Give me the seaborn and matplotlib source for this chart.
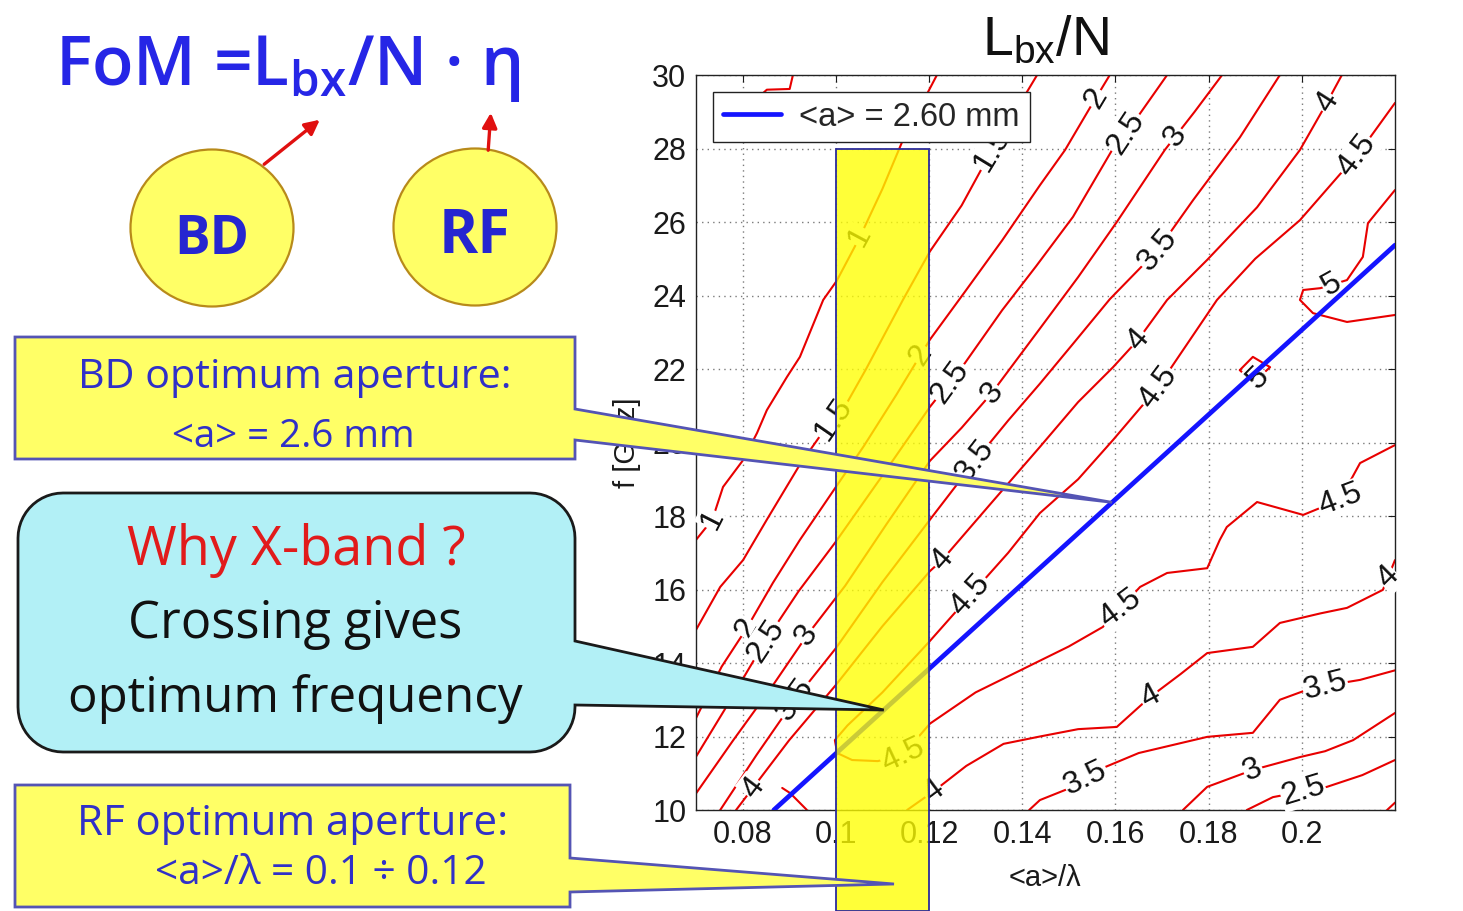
import numpy as np
import pandas as pd
import matplotlib
matplotlib.use("Agg")
import matplotlib.pyplot as plt
from matplotlib.lines import Line2D
from matplotlib.patches import Rectangle, Ellipse, Polygon, FancyArrowPatch
import seaborn as sns

# ---------------------------------------------------------------- data
X_TICKS = [0.08, 0.10, 0.12, 0.14, 0.16, 0.18, 0.20]
F_TICKS = [10, 12, 14, 16, 18, 20, 22, 24, 26, 28, 30]

# iso-lines of L_bx/N in the (<a>/lambda, f [GHz]) plane
c05_x = [0.0800, 0.0852, 0.0901, 0.0908]
c05_f = [29.00, 29.60, 29.62, 30.00]

c1_x = [0.0700, 0.0735, 0.0758, 0.0801, 0.0831, 0.0852, 0.0895, 0.0923, 0.0973, 0.1002, 0.1052, 0.1100, 0.1144, 0.1217]
c1_f = [17.35, 17.90, 18.79, 19.52, 20.26, 20.88, 21.78, 22.33, 23.88, 24.40, 25.60, 26.90, 28.23, 30.00]

c15_x = [0.0700, 0.0752, 0.0801, 0.0852, 0.0923, 0.0973, 0.1016, 0.1065, 0.1144, 0.1202, 0.1270, 0.1335, 0.1380, 0.1432]
c15_f = [14.90, 16.07, 16.80, 17.90, 19.40, 20.30, 20.90, 22.00, 23.88, 25.20, 26.45, 27.96, 28.90, 30.00]

c2_x = [0.0700, 0.0755, 0.0809, 0.0865, 0.0923, 0.0990, 0.1060, 0.1130, 0.1202, 0.1277, 0.1357, 0.1438, 0.1492, 0.1545, 0.1588]
c2_f = [12.50, 13.90, 14.95, 16.18, 17.35, 18.60, 19.90, 21.30, 22.80, 24.10, 25.50, 27.00, 27.96, 29.10, 30.00]

c25_x = [0.0700, 0.0760, 0.0844, 0.0920, 0.1000, 0.1100, 0.1202, 0.1277, 0.1357, 0.1430, 0.1509, 0.1593, 0.1650, 0.1711]
c25_f = [11.45, 12.70, 14.50, 15.95, 17.30, 19.10, 20.97, 22.16, 23.60, 24.80, 26.14, 27.96, 28.90, 30.00]

c3_x = [0.0700, 0.0780, 0.0860, 0.0938, 0.1020, 0.1110, 0.1202, 0.1270, 0.1335, 0.1438, 0.1520, 0.1603, 0.1706, 0.1770, 0.1829]
c3_f = [10.45, 11.90, 13.30, 14.75, 16.10, 17.80, 19.50, 20.40, 21.35, 23.10, 24.50, 26.00, 27.96, 29.00, 30.00]

c35_x = [0.0752, 0.0830, 0.0912, 0.1000, 0.1100, 0.1202, 0.1299, 0.1370, 0.1438, 0.1510, 0.1588, 0.1691, 0.1767, 0.1867, 0.1953]
c35_f = [10.00, 11.50, 13.00, 14.40, 16.20, 17.90, 19.50, 20.60, 21.60, 22.70, 23.90, 25.24, 26.60, 28.30, 30.00]

c4_x = [0.0786, 0.0822, 0.0900, 0.1000, 0.1100, 0.1202, 0.1228, 0.1330, 0.1438, 0.1520, 0.1595, 0.1649, 0.1711, 0.1797, 0.1904, 0.1996, 0.2054, 0.2086]
c4_f = [10.00, 10.60, 11.90, 13.40, 15.00, 16.50, 16.80, 18.30, 19.88, 21.10, 22.05, 22.80, 23.88, 24.97, 26.40, 27.96, 29.25, 30.00]

c45_x = [0.2200, 0.2118, 0.2082, 0.1996, 0.1900, 0.1818, 0.1739, 0.1691, 0.1595, 0.1520, 0.1438, 0.1370, 0.1299,
         0.1202, 0.1100, 0.1025, 0.0998, 0.1003, 0.1035, 0.1090, 0.1144, 0.1202, 0.1300, 0.1420, 0.1500, 0.1573,
         0.1653, 0.1711, 0.1797, 0.1824, 0.1839, 0.1904, 0.2003, 0.2082, 0.2125, 0.2200]
c45_f = [29.24, 27.80, 27.30, 26.05, 25.00, 23.88, 22.40, 21.50, 20.07, 19.00, 18.08, 17.00, 15.99,
         14.60, 13.20, 12.30, 11.90, 11.55, 11.36, 11.33, 11.50, 12.35, 13.20, 13.95, 14.45, 14.98,
         16.07, 16.45, 16.58, 17.35, 17.70, 18.38, 18.03, 18.44, 19.44, 19.93]

c45b_x = [0.0885, 0.0902, 0.0938]
c45b_f = [10.60, 10.46, 10.00]

c4b_x = [0.1153, 0.1209, 0.1280, 0.1360, 0.1438, 0.1520, 0.1603, 0.1674, 0.1740, 0.1797, 0.1895, 0.1953, 0.2040, 0.2097, 0.2174, 0.2200]
c4b_f = [10.00, 10.50, 11.20, 11.80, 12.00, 12.20, 12.26, 13.07, 13.70, 14.27, 14.44, 15.09, 15.35, 15.50, 15.99, 16.80]

c35b_x = [0.1415, 0.1438, 0.1509, 0.1565, 0.1650, 0.1797, 0.1895, 0.1953, 0.2011, 0.2082, 0.2125, 0.2200]
c35b_f = [10.00, 10.27, 10.63, 11.10, 11.55, 11.99, 12.10, 13.00, 13.27, 13.45, 13.54, 13.80]

c3b_x = [0.1745, 0.1797, 0.1895, 0.1996, 0.2050, 0.2110, 0.2200]
c3b_f = [10.00, 10.63, 11.09, 11.44, 11.60, 11.90, 12.64]

c25b_x = [0.1882, 0.1938, 0.2054, 0.2130, 0.2200]
c25b_f = [10.00, 10.35, 10.63, 10.95, 11.36]

c2b_x = [0.2183, 0.2200]
c2b_f = [10.00, 10.20]

c5_x = [0.2200, 0.2142, 0.2131, 0.2097, 0.2040, 0.2003, 0.1996, 0.2024, 0.2097, 0.2200]
c5_f = [26.87, 25.97, 25.05, 24.42, 24.20, 24.15, 23.88, 23.52, 23.28, 23.47]

c5b_x = [0.1867, 0.1895, 0.1932, 0.1895, 0.1867]
c5b_f = [21.97, 22.33, 22.05, 21.62, 21.97]

CONTOURS = [
    (0.5, c05_x, c05_f), (1.0, c1_x, c1_f), (1.5, c15_x, c15_f), (2.0, c2_x, c2_f),
    (2.5, c25_x, c25_f), (3.0, c3_x, c3_f), (3.5, c35_x, c35_f), (4.0, c4_x, c4_f),
    (4.5, c45_x, c45_f), (4.5, c45b_x, c45b_f), (4.0, c4b_x, c4b_f), (3.5, c35b_x, c35b_f),
    (3.0, c3b_x, c3b_f), (2.5, c25b_x, c25b_f), (2.0, c2b_x, c2b_f), (5.0, c5_x, c5_f),
    (5.0, c5b_x, c5b_f),
]

# inline contour labels: level and approximate position
label_level = [1, 1, 1.5, 1.5, 2, 2, 2, 2.5, 2.5, 2.5, 3, 3, 3, 3.5, 3.5, 3.5,
               4, 4, 4, 4, 4.5, 4.5, 4.5, 4.5, 4.5, 4.5, 4, 4, 4, 3.5, 3.5, 3, 2.5, 5, 5]
label_x = [0.0734, 0.1052, 0.0998, 0.1335, 0.0809, 0.1181, 0.1560, 0.0850, 0.1249, 0.1625, 0.0938, 0.1335, 0.1732,
           0.0912, 0.1299, 0.1691, 0.0822, 0.1228, 0.1649, 0.2054, 0.1285, 0.1697, 0.2118, 0.1144, 0.1616, 0.2082,
           0.1209, 0.1674, 0.2190, 0.1537, 0.2050, 0.1895, 0.2003, 0.2067, 0.1925]
label_f = [17.90, 25.60, 20.60, 27.96, 14.95, 22.40, 29.35, 14.60, 21.60, 28.40, 14.75, 21.35, 28.30,
           13.00, 19.50, 25.24, 10.60, 16.80, 22.80, 29.25, 15.90, 21.45, 27.80, 11.50, 15.40, 18.44,
           10.50, 13.07, 16.30, 10.85, 13.40, 11.09, 10.50, 24.20, 21.50]

# constant average aperture line
APERTURE_MM = 2.60
aperture_x = [0.0867, 0.2200]
aperture_f = [10.00, 25.37]

# RF optimum range of <a>/lambda
RF_BAND = [0.10, 0.12]
RF_BAND_TOP = 28.0

# ---------------------------------------------------------------- style
sns.set_theme(style="white")
plt.rcParams["font.family"] = ["Liberation Sans", "DejaVu Sans"]
SLIDE_FONT = ["Open Sans", "DejaVu Sans"]

W, H = 1463, 911
fig = plt.figure(figsize=(W / 100, H / 100), dpi=100)
fig.patch.set_facecolor("white")
ax = fig.add_axes([696 / W, 1 - 810 / H, 699 / W, 735 / H])
ax.set_xlim(0.07, 0.22)
ax.set_ylim(10, 30)

# ---------------------------------------------------------------- contour lines
rows = []
for k, (lev, xs, fs) in enumerate(CONTOURS):
    for xv, fv in zip(xs, fs):
        rows.append({"seg": k, "level": lev, "x": xv, "f": fv})
cdf = pd.DataFrame(rows)
sns.lineplot(data=cdf, x="x", y="f", units="seg", estimator=None, sort=False,
             color="#e80000", linewidth=1.5, ax=ax, legend=False, zorder=2)

# constant-aperture line
sns.lineplot(x=aperture_x, y=aperture_f, color="#1414ff", linewidth=3.4, ax=ax,
             zorder=4, legend=False)

# inline labels, oriented along their iso-line
for lev, lx, lf in zip(label_level, label_x, label_f):
    p = ax.transData.transform([lx, lf])
    best = None
    for lv, xs, fs in CONTOURS:
        if lv != lev:
            continue
        pts = ax.transData.transform(np.column_stack([xs, fs]))
        n = len(pts)
        for j in range(n - 1):
            a, b = pts[j], pts[j + 1]
            d = b - a
            t = np.clip(np.dot(p - a, d) / np.dot(d, d), 0, 1)
            q = a + t * d
            dist = np.hypot(*(p - q))
            if best is None or dist < best[0]:
                dd = pts[min(j + 2, n - 1)] - pts[max(j - 1, 0)]
                best = (dist, q, dd)
    dist, q, dd = best
    ang = np.degrees(np.arctan2(dd[1], dd[0]))
    if ang > 90:
        ang -= 180
    if ang <= -90:
        ang += 180
    qx, qf = ax.transData.inverted().transform(q)
    ax.text(qx, qf, f"{lev:g}", rotation=ang, rotation_mode="anchor", ha="center",
            va="center", fontsize=23, color="#111111", zorder=3,
            bbox=dict(boxstyle="square,pad=0.02", fc="white", ec="none"))

# ---------------------------------------------------------------- axes cosmetics
ax.set_xticks(X_TICKS)
ax.set_xticklabels([f"{v:g}" for v in X_TICKS])
ax.set_yticks(F_TICKS)
ax.set_yticklabels([f"{v:g}" for v in F_TICKS])
ax.grid(True, linestyle=(0, (1, 3)), color="#7a7a7a", linewidth=1.0)
ax.tick_params(direction="in", length=5, width=0.8, top=True, right=True,
               labelsize=22, colors="#1a1a1a", pad=7)
for sp in ax.spines.values():
    sp.set_color("#222222")
    sp.set_linewidth(1.0)
ax.set_xlabel("<a>/\u03bb", fontsize=21, labelpad=10, color="#1a1a1a")
ax.set_ylabel("f [GHz]", fontsize=21, labelpad=8, color="#1a1a1a")
ax.set_title(r"$\mathregular{L_{bx}/N}$", fontsize=40, pad=14, color="#111111")

leg = ax.legend(handles=[Line2D([], [], color="#1414ff", lw=3.4)],
                labels=[f"<a> = {APERTURE_MM:.2f} mm"], loc="upper left",
                bbox_to_anchor=(0.024, 0.977), borderaxespad=0, fontsize=23.5,
                handlelength=1.8, handletextpad=0.55, borderpad=0.3,
                fancybox=False, framealpha=1, edgecolor="#222222")
leg.get_frame().set_linewidth(1.0)
leg.set_zorder(6)

# RF optimum band, running down off the plot
fig.canvas.draw()
f_bottom = ax.transData.inverted().transform(fig.transFigure.transform((0, 0)))[1]
band = Rectangle((RF_BAND[0], f_bottom), RF_BAND[1] - RF_BAND[0], RF_BAND_TOP - f_bottom,
                 transform=ax.transData, clip_on=False, fc=(1, 1, 0), alpha=0.78,
                 ec="none", zorder=20)
ax.add_patch(band)
ax.add_patch(Rectangle((RF_BAND[0], f_bottom), RF_BAND[1] - RF_BAND[0], RF_BAND_TOP - f_bottom,
                       transform=ax.transData, clip_on=False, fc="none",
                       ec="#2b2b9c", lw=1.3, zorder=21))

# ---------------------------------------------------------------- slide annotations (pixel frame)
ov = fig.add_axes([0, 0, 1, 1], zorder=10)
ov.set_xlim(0, W)
ov.set_ylim(H, 0)
ov.axis("off")
ov.patch.set_alpha(0)


def to_px(x, f):
    dx, dy = ax.transData.transform([x, f])
    return dx, H - dy


def on_aperture_line(x):
    f = np.interp(x, aperture_x, aperture_f)
    return to_px(x, f)


renderer = fig.canvas.get_renderer()


def fit_text(cx, y, s, width, **kw):
    t = ov.text(cx, y, s, ha="center", va="baseline", fontsize=30, **kw)
    w = t.get_window_extent(renderer).width
    t.set_fontsize(30 * width / w)
    return t


def arc(cx, cy, r, a0, a1, n=14):
    t = np.radians(np.linspace(a0, a1, n))
    return list(zip(cx + r * np.cos(t), cy + r * np.sin(t)))


YELLOW = "#ffff66"
BOX_EDGE = "#5454b4"
TXT_BLUE = "#3030c8"

# formula and the two circles
fit_text(288, 85, "FoM =L$_{\\mathregular{bx}}$/N \u00b7 \u03b7", 467, color="#2626e6",
         family=SLIDE_FONT, weight="semibold")
for cx, cy, txt, tw in [(212, 228, "BD", 75), (475, 227, "RF", 72)]:
    ov.add_patch(Ellipse((cx, cy), 163, 157, fc=YELLOW, ec="#b88a1a", lw=1.6))
    fit_text(cx, cy + 26, txt, tw, color="#2626d0", family=SLIDE_FONT, weight="bold")
ov.add_patch(FancyArrowPatch((262, 166), (322, 118), arrowstyle="-|>", mutation_scale=22,
                             color="#e01010", lw=2.4))
ov.add_patch(FancyArrowPatch((488, 153), (491, 110), arrowstyle="-|>", mutation_scale=22,
                             color="#e01010", lw=2.4))

# BD callout
tip = on_aperture_line(0.1593)
x0, y0, x1, y1 = 15, 337, 575, 459
ov.add_patch(Polygon([(x0, y0), (x1, y0), (x1, 409), tip, (x1, 440), (x1, y1), (x0, y1)],
                     closed=True, fc=YELLOW, ec=BOX_EDGE, lw=2))
fit_text(295, 388, "BD optimum aperture:", 434, color=TXT_BLUE, family=SLIDE_FONT)
fit_text(293, 447, "<a> = 2.6 mm", 243, color=TXT_BLUE, family=SLIDE_FONT)

# rounded "Why X-band" callout
tip = on_aperture_line(0.1103)
x0, y0, x1, y1, r = 18, 493, 575, 752, 45
pts = (arc(x0 + r, y0 + r, r, 180, 270) + arc(x1 - r, y0 + r, r, 270, 360)
       + [(x1, 641), tip, (x1, 705)]
       + arc(x1 - r, y1 - r, r, 0, 90) + arc(x0 + r, y1 - r, r, 90, 180))
ov.add_patch(Polygon(pts, closed=True, fc="#b2f0f6", ec="#1a1a1a", lw=2))
fit_text(296, 565, "Why X-band ?", 338, color="#e11b1b", family=SLIDE_FONT)
fit_text(295, 638, "Crossing gives", 334, color="#111111", family=SLIDE_FONT)
fit_text(295, 712, "optimum frequency", 454, color="#111111", family=SLIDE_FONT)

# RF callout
x0, y0, x1, y1 = 15, 785, 570, 907
ov.add_patch(Polygon([(x0, y0), (x1, y0), (x1, 858), (894, 884), (x1, 892), (x1, y1), (x0, y1)],
                     closed=True, fc=YELLOW, ec=BOX_EDGE, lw=2))
fit_text(293, 835, "RF optimum aperture:", 430, color=TXT_BLUE, family=SLIDE_FONT)
fit_text(321, 884, "<a>/\u03bb = 0.1 \u00f7 0.12", 332, color=TXT_BLUE, family=SLIDE_FONT)

fig.savefig("out.png", dpi=100, facecolor="white")
